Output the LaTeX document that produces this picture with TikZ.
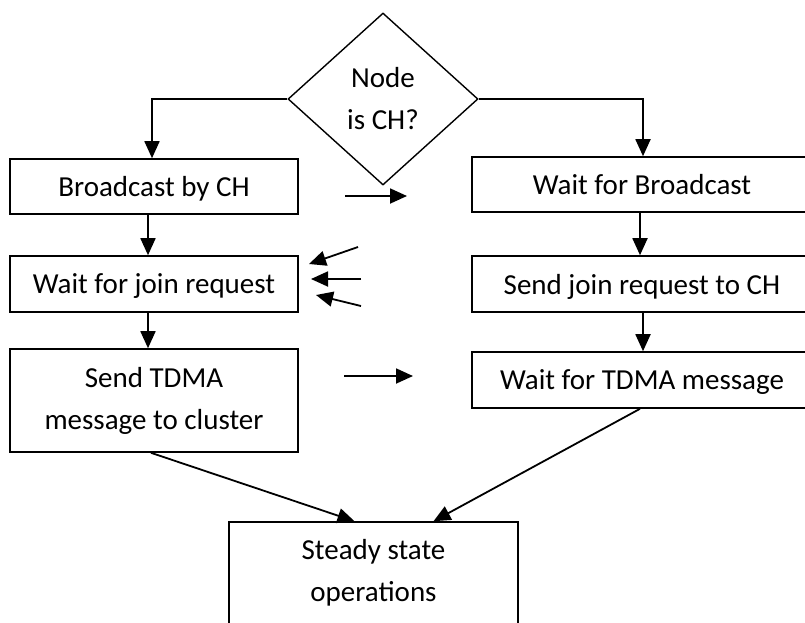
\documentclass[tikz,border=0pt]{standalone}
\usepackage{fontspec}
\setmainfont{Carlito}
\usetikzlibrary{shapes.geometric,arrows.meta}
\begin{document}
\begin{tikzpicture}[x=1pt,y=-1pt,
  every node/.style={font=\fontsize{29}{42}\selectfont},
  box/.style={draw,line width=1.6pt,rectangle,inner sep=0pt,align=center},
  onebox/.style={box,text depth=0pt},
  decision/.style={draw,line width=1.4pt,diamond,inner sep=0pt,align=center,
                   minimum width=190pt,minimum height=172pt},
  flow/.style={line width=1.8pt,-{Triangle[length=17pt,width=15pt]}}]
\useasboundingbox (0,0) rectangle (805,622);
\clip (0,0) rectangle (805,622);

% decision
\node[decision] (dec) at (383,99) {Node\\is CH?};

% cluster-head branch
\node[onebox,minimum width=288pt,minimum height=55pt] (lb1) at (154,186.5) {Broadcast by CH};
\node[onebox,minimum width=288pt,minimum height=56pt] (lb2) at (154,284) {Wait for join request};
\node[box,minimum width=288pt,minimum height=103pt] (lb3) at (154,400.5) {Send TDMA\\message to cluster};

% member branch
\node[onebox,minimum width=340pt,minimum height=55pt] (rb1) at (642,184.5) {Wait for Broadcast};
\node[onebox,minimum width=340pt,minimum height=56pt] (rb2) at (642,284) {Send join request to CH};
\node[onebox,minimum width=340pt,minimum height=56pt] (rb3) at (642,380) {Wait for TDMA message};

% final state
\node[box,minimum width=289pt,minimum height=102pt] (ss) at (373.5,573) {Steady state\\operations};

% branches from the decision
\draw[flow] (dec.west) -| ([xshift=-2pt]lb1.north);
\draw[flow] (dec.east) -| ([xshift=1pt]rb1.north);

% vertical steps
\draw[flow] ([xshift=-6pt]lb1.south) -- ([xshift=-6pt]lb2.north);
\draw[flow] ([xshift=-6pt]lb2.south) -- ([xshift=-6pt]lb3.north);
\draw[flow] ([xshift=-2pt]rb1.south) -- ([xshift=-2pt]rb2.north);
\draw[flow] ([xshift=1pt]rb2.south) -- ([xshift=1pt]rb3.north);

% messages between the branches
\coordinate (m1s) at (345,196);  \coordinate (m1e) at (407,196);
\coordinate (m2s) at (344,376);  \coordinate (m2e) at (413,376);
\draw[flow] (m1s) -- (m1e);
\draw[flow] (m2s) -- (m2e);

% incoming join requests
\coordinate (j1s) at (358,247);  \coordinate (j1e) at (309,264);
\coordinate (j2s) at (361,279);  \coordinate (j2e) at (311,279);
\coordinate (j3s) at (361,306);  \coordinate (j3e) at (316,295);
\draw[flow] (j1s) -- (j1e);
\draw[flow] (j2s) -- (j2e);
\draw[flow] (j3s) -- (j3e);

% into steady state
\draw[flow] ([xshift=-3pt]lb3.south) -- ([xshift=-19pt]ss.north);
\draw[flow] ([xshift=-2pt]rb3.south) -- ([xshift=60pt]ss.north);
\end{tikzpicture}
\end{document}
